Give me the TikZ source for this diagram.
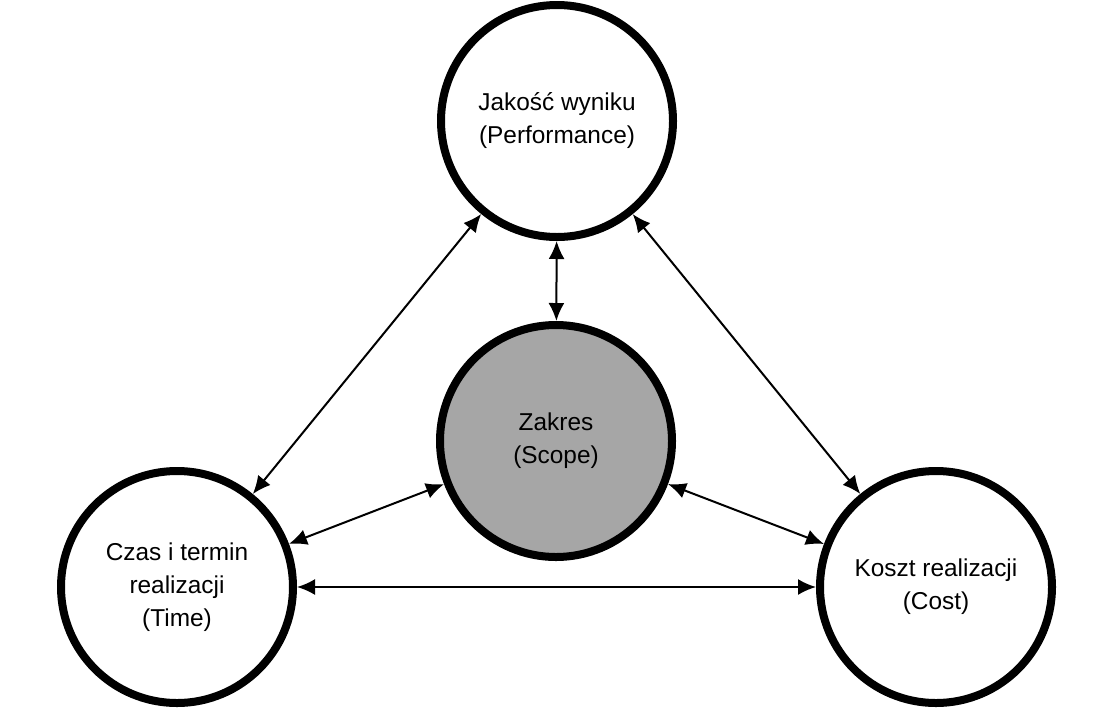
\documentclass[tikz,border=0pt]{standalone}
\usepackage{fontspec}
\setmainfont{Liberation Sans}
\usetikzlibrary{arrows.meta}
\definecolor{scopegray}{RGB}{166,166,166}

\begin{document}
\begin{tikzpicture}[x=0.75pt,y=-0.75pt,
    goal/.style={draw, circle, line width=6pt, fill=white, minimum size=174pt, inner sep=0pt,
        align=center, font=\fontsize{18.3}{24.75}\selectfont},
    link/.style={line width=1.5pt, {Latex[length=13.5pt,width=12pt]}-{Latex[length=13.5pt,width=12pt]}}]
    \useasboundingbox (0,0) rectangle (1100,722);
    \node[goal] (perf) at (557,121) {Jakość wyniku\\(Performance)};
    \node[goal, fill=scopegray] (scope) at (556,441) {Zakres\\(Scope)};
    \node[goal] (time) at (177,587) {Czas i termin\\realizacji\\(Time)};
    \node[goal] (cost) at (936,587) {Koszt realizacji\\(Cost)};
    \draw[link] (perf) -- (scope);
    \draw[link] (perf) -- (time);
    \draw[link] (perf) -- (cost);
    \draw[link] (scope) -- (time);
    \draw[link] (scope) -- (cost);
    \draw[link] (time) -- (cost);
\end{tikzpicture}
\end{document}
